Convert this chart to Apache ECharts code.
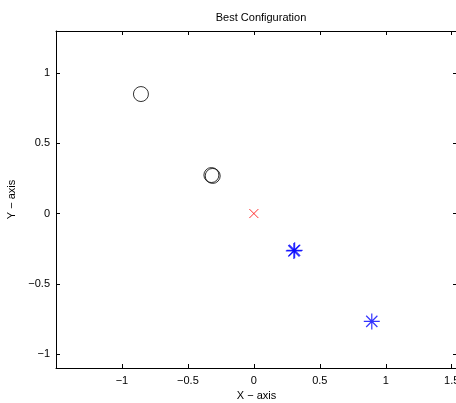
<!DOCTYPE html>
<html>
<head>
<meta charset="utf-8">
<title>Best Configuration</title>
<script src="https://cdn.jsdelivr.net/npm/echarts@6/dist/echarts.min.js"></script>
<style>
  html, body { margin: 0; padding: 0; background: #fff; }
  #chart { width: 456px; height: 403px; }
</style>
</head>
<body>
<div id="chart"></div>
<script>
// data
const circlePoints = [[-0.856, 0.851], [-0.322, 0.274], [-0.312, 0.268]];
const starPoints = [[0.303, -0.266], [0.309, -0.262], [0.894, -0.768]];
const crossPoints = [[0, 0]];
const xTicks = [-1, -0.5, 0, 0.5, 1, 1.5];
const yTicks = [-1, -0.5, 0, 0.5, 1];

const fontFamily = '"Liberation Sans", Arial, sans-serif';
const minus = v => String(v).replace('-', '\u2212');

const starPath = 'path://M0,-10 L0,10 M-10,0 L10,0 M-7,-7 L7,7 M-7,7 L7,-7';
const crossPath = 'path://M-10,-10 L10,10 M-10,10 L10,-10';

function xAxisOf(pos, showLabels) {
  return {
    type: 'value', position: pos, min: -1.5, max: 1.54,
    name: showLabels ? 'X \u2212 axis' : '', nameLocation: 'middle', nameGap: 20,
    nameTextStyle: { color: '#000', fontSize: 11, fontFamily },
    axisLine: { onZero: false, lineStyle: { color: '#000', width: 1 } },
    axisTick: { show: true, inside: true, length: 4, customValues: xTicks, lineStyle: { color: '#000' } },
    axisLabel: { show: showLabels, customValues: xTicks, formatter: minus, color: '#000', fontSize: 11, fontFamily, margin: 7 },
    splitLine: { show: false }
  };
}

function yAxisOf(pos, showLabels) {
  return {
    type: 'value', position: pos, min: -1.1, max: 1.3,
    name: showLabels ? 'Y \u2212 axis' : '', nameLocation: 'middle', nameGap: 33,
    nameTextStyle: { color: '#000', fontSize: 11, fontFamily },
    axisLine: { onZero: false, lineStyle: { color: '#000', width: 1 } },
    axisTick: { show: true, inside: true, length: 4, customValues: yTicks, lineStyle: { color: '#000' } },
    axisLabel: { show: showLabels, customValues: yTicks, formatter: minus, color: '#000', fontSize: 11, fontFamily, margin: 6 },
    splitLine: { show: false }
  };
}

const chart = echarts.init(document.getElementById('chart'));
chart.setOption({
  animation: false,
  backgroundColor: '#fff',
  title: {
    text: 'Best Configuration', left: 256, top: 7, textAlign: 'center',
    textStyle: { color: '#000', fontSize: 11, fontWeight: 'normal', fontFamily }
  },
  grid: { left: 56, top: 31, width: 401, height: 337, outerBoundsMode: 'none' },
  xAxis: [xAxisOf('bottom', true), xAxisOf('top', false)],
  yAxis: [yAxisOf('left', true), yAxisOf('right', false)],
  series: [
    {
      type: 'scatter', data: circlePoints, symbol: 'circle', symbolSize: 15,
      itemStyle: { color: 'transparent', borderColor: '#000', borderWidth: 1 }
    },
    {
      type: 'scatter', data: starPoints, symbol: starPath, symbolSize: 16,
      itemStyle: { color: 'none', borderColor: '#0000ff', borderWidth: 1.2 }
    },
    {
      type: 'scatter', data: crossPoints, symbol: crossPath, symbolSize: 9,
      itemStyle: { color: 'none', borderColor: '#ff0000', borderWidth: 1 }
    }
  ]
});
</script>
</body>
</html>
